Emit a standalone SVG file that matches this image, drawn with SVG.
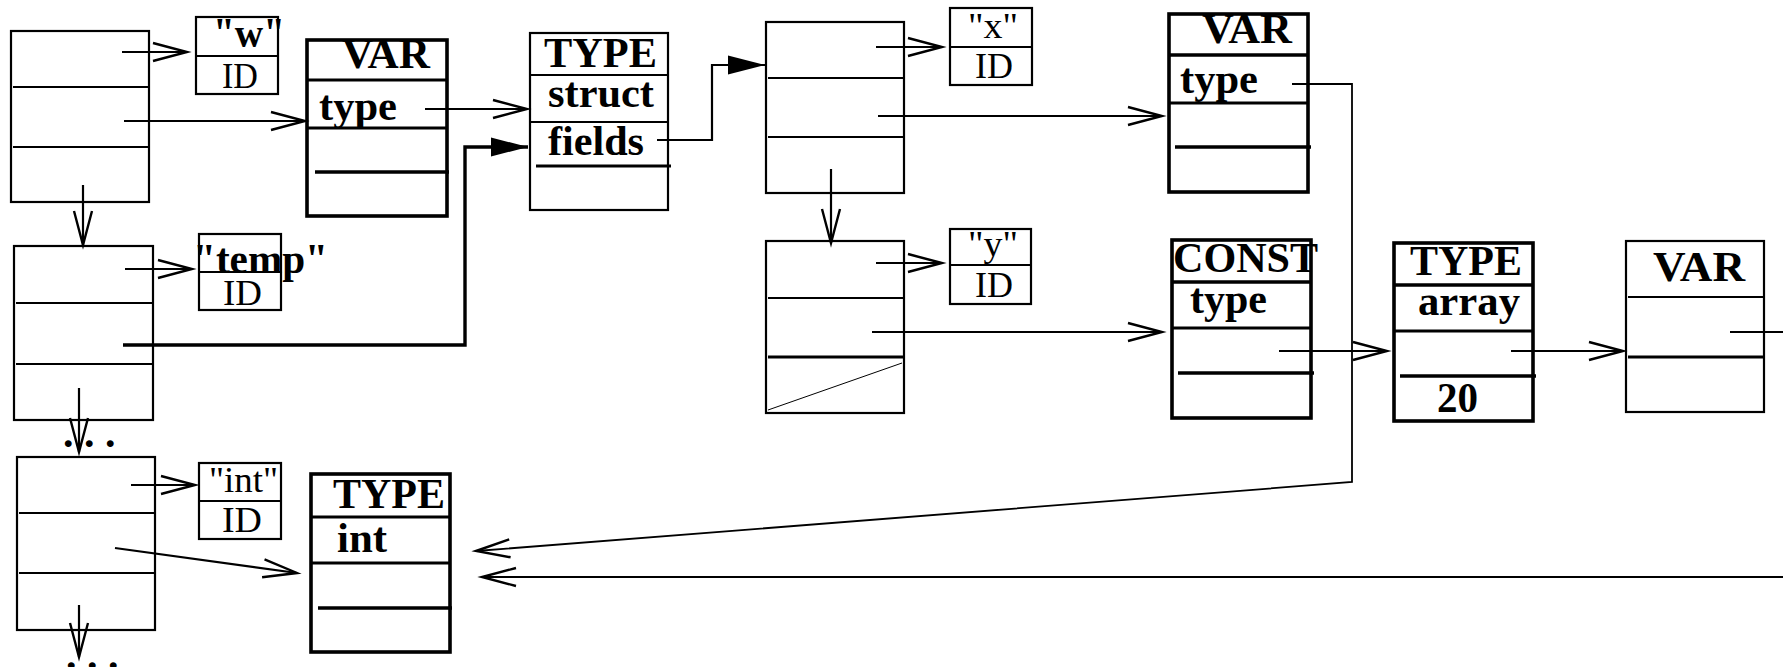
<svg xmlns="http://www.w3.org/2000/svg" width="1783" height="667" viewBox="0 0 1783 667">
<style>
.thin{fill:none;stroke:#000;stroke-width:2.2}
.thick{fill:none;stroke:#000;stroke-width:3.6}
.mid{fill:none;stroke:#000;stroke-width:3}
.hd{font-family:"Liberation Serif","Times New Roman",serif;font-weight:bold;font-size:42px;fill:#000}
.rg{font-family:"Liberation Serif","Times New Roman",serif;font-size:35px;fill:#000}
.c{fill:none;stroke:#000;stroke-width:2.2}
.cb{fill:none;stroke:#000;stroke-width:3.4}
.cl{fill:none;stroke:#000;stroke-width:1.8}
.dg{fill:none;stroke:#000;stroke-width:1}
</style>
<defs>
<marker id="open" markerUnits="userSpaceOnUse" markerWidth="42" markerHeight="26" viewBox="-38 -13 42 26" refX="0" refY="0" orient="auto" overflow="visible">
<path d="M-34,-9 L0,0 L-34,9" fill="none" stroke="#000" stroke-width="2.4"/>
</marker>
<marker id="fill" markerUnits="userSpaceOnUse" markerWidth="42" markerHeight="26" viewBox="-40 -13 42 26" refX="0" refY="0" orient="auto" overflow="visible">
<path d="M-37,-9.5 L0,0 L-37,9.5 Z" fill="#000"/>
</marker>
</defs>
<rect width="1783" height="667" fill="#fff"/>

<g id="list1">
<rect x="11" y="31" width="138" height="171" class="thin"/>
<line x1="13" y1="87" x2="149" y2="87" class="thin"/>
<line x1="13" y1="147" x2="149" y2="147" class="thin"/>
</g>
<g id="list2">
<rect x="14" y="246" width="139" height="174" class="thin"/>
<line x1="16" y1="303" x2="153" y2="303" class="thin"/>
<line x1="16" y1="364" x2="153" y2="364" class="thin"/>
</g>
<g id="list3">
<rect x="17" y="457" width="138" height="173" class="thin"/>
<line x1="19" y1="513" x2="155" y2="513" class="thin"/>
<line x1="19" y1="573" x2="155" y2="573" class="thin"/>
</g>
<g id="list4">
<rect x="766" y="22" width="138" height="171" class="thin"/>
<line x1="768" y1="78" x2="904" y2="78" class="thin"/>
<line x1="768" y1="137" x2="904" y2="137" class="thin"/>
</g>
<g id="list5">
<rect x="766" y="241" width="138" height="172" class="thin"/>
<line x1="768" y1="298" x2="904" y2="298" class="thin"/>
<line x1="768" y1="357" x2="904" y2="357" class="mid"/>
<line x1="768" y1="410" x2="902" y2="363" class="dg"/>
</g>

<g id="dots1"><text x="63" y="447" class="hd" font-size="40">. . .</text></g>
<g id="dots2"><text x="66" y="669" class="hd" font-size="40">. . .</text></g>

<g id="id-w">
<rect x="196" y="17" width="82" height="77" class="thin"/>
<line x1="196" y1="56" x2="278" y2="56" class="thin"/>
<text x="213" y="47" class="hd" font-size="38" textLength="72" lengthAdjust="spacingAndGlyphs">"w"</text>
<text x="222" y="88" class="rg" textLength="36" lengthAdjust="spacingAndGlyphs">ID</text>
</g>
<g id="id-temp">
<rect x="199" y="234" width="82" height="76" class="thin"/>
<line x1="199" y1="272" x2="281" y2="272" class="thin"/>
<text x="193" y="273" class="hd" textLength="135" lengthAdjust="spacingAndGlyphs">"temp"</text>
<text x="223" y="305" class="rg" textLength="39" lengthAdjust="spacingAndGlyphs">ID</text>
</g>
<g id="id-int">
<rect x="199" y="463" width="82" height="76" class="thin"/>
<line x1="199" y1="501" x2="281" y2="501" class="thin"/>
<text x="209" y="492" class="rg" font-size="37" textLength="69" lengthAdjust="spacingAndGlyphs">"int"</text>
<text x="222" y="532" class="rg" textLength="40" lengthAdjust="spacingAndGlyphs">ID</text>
</g>
<g id="id-x">
<rect x="950" y="8" width="82" height="77" class="thin"/>
<line x1="950" y1="47" x2="1032" y2="47" class="thin"/>
<text x="968" y="38" class="rg" textLength="50" lengthAdjust="spacingAndGlyphs">"x"</text>
<text x="975" y="78" class="rg" textLength="38" lengthAdjust="spacingAndGlyphs">ID</text>
</g>
<g id="id-y">
<rect x="950" y="229" width="81" height="75" class="thin"/>
<line x1="950" y1="265" x2="1031" y2="265" class="thin"/>
<text x="968" y="256" class="rg" textLength="50" lengthAdjust="spacingAndGlyphs">"y"</text>
<text x="975" y="297" class="rg" textLength="38" lengthAdjust="spacingAndGlyphs">ID</text>
</g>

<g id="var-w">
<rect x="307" y="40" width="140" height="176" class="thick"/>
<line x1="307" y1="80" x2="447" y2="80" class="mid"/>
<line x1="307" y1="128" x2="447" y2="128" class="mid"/>
<line x1="315" y1="172" x2="449" y2="172" class="thick"/>
<text x="342" y="68" class="hd" textLength="88" lengthAdjust="spacingAndGlyphs">VAR</text>
<text x="319" y="120" class="hd" textLength="78" lengthAdjust="spacingAndGlyphs">type</text>
</g>
<g id="type-struct">
<rect x="530" y="33" width="138" height="177" class="thin"/>
<line x1="530" y1="75" x2="668" y2="75" class="thin"/>
<line x1="530" y1="122" x2="668" y2="122" class="thin"/>
<line x1="536" y1="166" x2="671" y2="166" class="mid"/>
<text x="544" y="67" class="hd" textLength="113" lengthAdjust="spacingAndGlyphs">TYPE</text>
<text x="548" y="107" class="hd" textLength="106" lengthAdjust="spacingAndGlyphs">struct</text>
<text x="548" y="155" class="hd" textLength="96" lengthAdjust="spacingAndGlyphs">fields</text>
</g>
<g id="var-x">
<rect x="1169" y="14" width="139" height="178" class="thick"/>
<line x1="1169" y1="55" x2="1308" y2="55" class="thick"/>
<line x1="1169" y1="103" x2="1308" y2="103" class="mid"/>
<line x1="1175" y1="147" x2="1311" y2="147" class="thick"/>
<text x="1202" y="43" class="hd" textLength="90" lengthAdjust="spacingAndGlyphs">VAR</text>
<text x="1180" y="93" class="hd" textLength="78" lengthAdjust="spacingAndGlyphs">type</text>
</g>
<g id="const-y">
<rect x="1172" y="240" width="139" height="178" class="thick"/>
<line x1="1172" y1="282" x2="1311" y2="282" class="thick"/>
<line x1="1172" y1="328" x2="1311" y2="328" class="mid"/>
<line x1="1178" y1="373" x2="1314" y2="373" class="thick"/>
<text x="1173" y="272" class="hd" textLength="145" lengthAdjust="spacingAndGlyphs">CONST</text>
<text x="1190" y="313" class="hd" textLength="77" lengthAdjust="spacingAndGlyphs">type</text>
</g>
<g id="type-array">
<rect x="1394" y="243" width="139" height="178" class="thick"/>
<line x1="1394" y1="285" x2="1533" y2="285" class="thick"/>
<line x1="1394" y1="331" x2="1533" y2="331" class="mid"/>
<line x1="1400" y1="376" x2="1536" y2="376" class="thick"/>
<text x="1410" y="275" class="hd" textLength="112" lengthAdjust="spacingAndGlyphs">TYPE</text>
<text x="1418" y="315" class="hd" textLength="102" lengthAdjust="spacingAndGlyphs">array</text>
<text x="1437" y="412" class="hd" textLength="41" lengthAdjust="spacingAndGlyphs">20</text>
</g>
<g id="var-elem">
<rect x="1626" y="241" width="138" height="171" class="thin"/>
<line x1="1628" y1="297" x2="1764" y2="297" class="thin"/>
<line x1="1628" y1="357" x2="1764" y2="357" class="mid"/>
<text x="1653" y="281" class="hd" textLength="92" lengthAdjust="spacingAndGlyphs">VAR</text>
</g>
<g id="type-int">
<rect x="311" y="474" width="139" height="178" class="thick"/>
<line x1="311" y1="517" x2="450" y2="517" class="mid"/>
<line x1="311" y1="563" x2="450" y2="563" class="mid"/>
<line x1="318" y1="608" x2="452" y2="608" class="thick"/>
<text x="333" y="508" class="hd" textLength="112" lengthAdjust="spacingAndGlyphs">TYPE</text>
<text x="337" y="552" class="hd" textLength="50" lengthAdjust="spacingAndGlyphs">int</text>
</g>

<g id="connectors">
<path d="M122,52 H187" class="c" marker-end="url(#open)"/>
<path d="M124,121 H305" class="c" marker-end="url(#open)"/>
<path d="M83,185 V245" class="c" marker-end="url(#open)"/>
<path d="M125,269 H192" class="c" marker-end="url(#open)"/>
<path d="M123,345 H465 V147 H528" class="cb" marker-end="url(#fill)"/>
<path d="M79,388 V452" class="c" marker-end="url(#open)"/>
<path d="M131,485 H195" class="c" marker-end="url(#open)"/>
<path d="M115,548 L297,573" class="c" marker-end="url(#open)"/>
<path d="M79,605 V657" class="c" marker-end="url(#open)"/>
<path d="M425,109 H527" class="c" marker-end="url(#open)"/>
<path d="M657,140 H712 V65 H765" class="c" marker-end="url(#fill)"/>
<path d="M876,47 H942" class="c" marker-end="url(#open)"/>
<path d="M878,116 H1162" class="c" marker-end="url(#open)"/>
<path d="M831,169 V243" class="c" marker-end="url(#open)"/>
<path d="M876,263 H942" class="c" marker-end="url(#open)"/>
<path d="M872,332 H1162" class="c" marker-end="url(#open)"/>
<path d="M1292,84 H1352 V482 L476,551" class="cl" marker-end="url(#open)"/>
<path d="M1279,351 H1387" class="c" marker-end="url(#open)"/>
<path d="M1511,351 H1623" class="c" marker-end="url(#open)"/>
<path d="M1730,332 H1790" class="c"/>
<path d="M1790,577 H482" class="c" marker-end="url(#open)"/>
</g>
</svg>
